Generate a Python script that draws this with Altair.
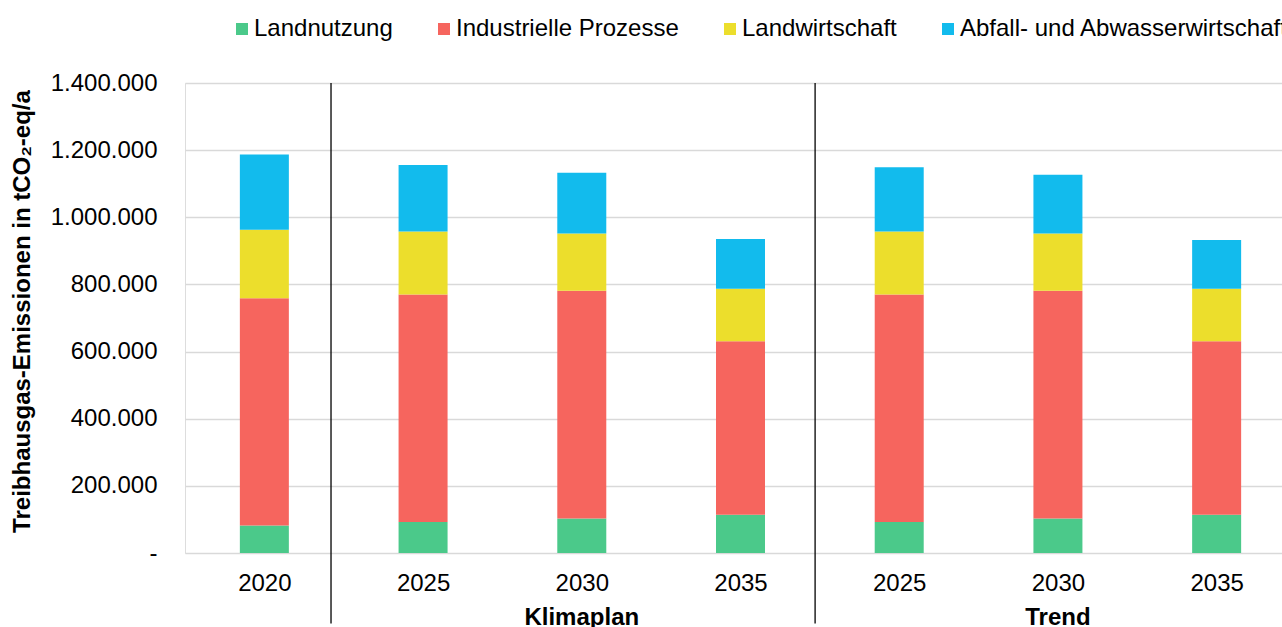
import altair as alt
import pandas as pd

# ---- data -------------------------------------------------------------
categories = ["2020", "Klimaplan 2025", "Klimaplan 2030", "Klimaplan 2035",
              "Trend 2025", "Trend 2030", "Trend 2035"]
year_labels = ["2020", "2025", "2030", "2035", "2025", "2030", "2035"]

series_names = ["Landnutzung", "Industrielle Prozesse", "Landwirtschaft",
                "Abfall- und Abwasserwirtschaft"]
series_colors = ["#4BC98A", "#F6655E", "#ECDE2C", "#12BBED"]

landnutzung = [82000, 92000, 103000, 114000, 92000, 103000, 114000]
industrie = [677000, 678000, 678000, 517000, 678000, 678000, 517000]
landwirtschaft = [204000, 188000, 171000, 156000, 188000, 171000, 156000]
abfall = [224000, 198000, 181000, 148000, 191000, 175000, 145000]

group_names = ["Klimaplan", "Trend"]
group_centers = [2.5, 5.5]          # category index of the group centre
separator_pos = [0.92, 3.97]        # category index of group separators

y_ticks = [0, 200000, 400000, 600000, 800000, 1000000, 1200000, 1400000]

# ---- tables ------------------------------------------------------------
series_values = [landnutzung, industrie, landwirtschaft, abfall]
rows = []
for s_idx, (name, vals) in enumerate(zip(series_names, series_values)):
    for c_idx, (cat, v) in enumerate(zip(categories, vals)):
        rows.append({"cat": cat, "pos": c_idx + 0.5, "series": name,
                     "order": s_idx, "value": v})
df = pd.DataFrame(rows)
sep_df = pd.DataFrame({"pos": separator_pos})
grp_df = pd.DataFrame({"label": group_names, "pos": group_centers})

FONT = "Liberation Sans"
x_scale = alt.Scale(domain=[0, len(categories)], range=[0, 1111],
                    nice=False, zero=False, padding=0)
y_scale = alt.Scale(domain=[0, 1400000], nice=False)

label_list = "[" + ",".join("'" + l + "'" for l in year_labels) + "]"

bars = alt.Chart(df).mark_bar(width=49).encode(
    x=alt.X("pos:Q", scale=x_scale,
            axis=alt.Axis(values=[i + 0.5 for i in range(len(categories))],
                          labelExpr=label_list + "[floor(datum.value)]",
                          grid=False, ticks=False, domain=False,
                          labelFontSize=24, labelColor="black", labelPadding=18,
                          labelFlush=False, labelOverlap=False, labelFont=FONT),
            title=None),
    y=alt.Y("value:Q", stack="zero", scale=y_scale,
            axis=alt.Axis(values=y_ticks,
                          labelExpr="datum.value == 0 ? '-\u00a0' : replace(format(datum.value, ','), regexp(',', 'g'), '.')",
                          grid=True, gridColor="#d9d9d9", gridWidth=1.5,
                          ticks=False, domain=False,
                          labelFontSize=24, labelColor="black", labelPadding=28,
                          labelFont=FONT,
                          titleFontSize=24, titleFontWeight="bold", titleColor="black",
                          titleFont=FONT, titleX=-163, titleY=228, titleAngle=270,
                          titleAlign="center", titleBaseline="middle"),
            title="Treibhausgas-Emissionen in tCO\u2082-eq/a"),
    color=alt.Color("series:N",
                    scale=alt.Scale(domain=series_names, range=series_colors),
                    legend=alt.Legend(orient="none", legendX=45, legendY=-66,
                                      direction="horizontal", columns=4, title=None,
                                      labelFontSize=24, labelColor="black", labelFont=FONT,
                                      symbolType="square", symbolSize=144,
                                      symbolStrokeWidth=0, labelOffset=0,
                                      columnPadding=39, labelLimit=600, padding=0)),
    order=alt.Order("order:Q"),
)

rules = alt.Chart(sep_df).mark_rule(color="black", strokeWidth=1.3).encode(
    x=alt.X("pos:Q", scale=x_scale, title=None),
    y=alt.datum(1400000, scale=y_scale),
    y2=alt.datum(-210000),
)

groups = alt.Chart(grp_df).mark_text(fontSize=24, fontWeight="bold", font=FONT,
                                     color="black", baseline="alphabetic").encode(
    x=alt.X("pos:Q", scale=x_scale, title=None),
    y=alt.value(542),
    text="label:N",
)

chart = alt.layer(bars, rules, groups).properties(
    width=1097, height=470,
    padding={"left": 185, "top": 83, "right": 0, "bottom": 74},
    autosize=alt.AutoSizeParams(type="none"),
).configure_view(stroke=None).configure(font=FONT)

chart.save("out.html", embed_options={"renderer": "svg", "actions": False})
